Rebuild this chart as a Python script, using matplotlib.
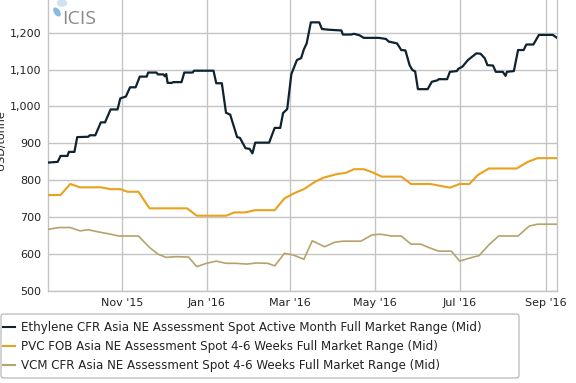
import matplotlib
matplotlib.use("Agg")
import matplotlib.pyplot as plt
import matplotlib.dates as mdates
from matplotlib.patches import FancyBboxPatch, Ellipse
import pandas as pd

plt.rcParams['font.family'] = ['DejaVu Sans']

eth_dates = ["2015-09-09", "2015-09-16", "2015-09-18", "2015-09-23", "2015-09-24", "2015-09-28",
             "2015-09-30", "2015-10-08", "2015-10-09", "2015-10-13", "2015-10-17", "2015-10-20",
             "2015-10-24", "2015-10-29", "2015-10-31", "2015-11-04", "2015-11-07", "2015-11-11",
             "2015-11-14", "2015-11-19", "2015-11-20", "2015-11-26", "2015-11-27", "2015-12-01",
             "2015-12-02", "2015-12-03", "2015-12-04", "2015-12-07", "2015-12-08", "2015-12-14",
             "2015-12-16", "2015-12-22", "2015-12-23", "2016-01-06", "2016-01-08", "2016-01-12",
             "2016-01-15", "2016-01-18", "2016-01-23", "2016-01-25", "2016-01-29", "2016-02-01",
             "2016-02-03", "2016-02-05", "2016-02-15", "2016-02-19", "2016-02-23", "2016-02-25",
             "2016-02-28", "2016-03-02", "2016-03-06", "2016-03-09", "2016-03-11", "2016-03-13",
             "2016-03-16", "2016-03-22", "2016-03-24", "2016-03-29", "2016-04-07", "2016-04-08",
             "2016-04-14", "2016-04-16", "2016-04-20", "2016-04-23", "2016-05-04", "2016-05-09",
             "2016-05-11", "2016-05-17", "2016-05-20", "2016-05-23", "2016-05-26", "2016-05-28",
             "2016-05-30", "2016-06-01", "2016-06-08", "2016-06-11", "2016-06-15", "2016-06-16",
             "2016-06-22", "2016-06-24", "2016-06-29", "2016-06-30", "2016-07-03", "2016-07-07",
             "2016-07-10", "2016-07-13", "2016-07-16", "2016-07-19", "2016-07-21", "2016-07-25",
             "2016-07-27", "2016-08-01", "2016-08-03", "2016-08-04", "2016-08-09", "2016-08-12",
             "2016-08-16", "2016-08-18", "2016-08-23", "2016-08-27", "2016-09-06", "2016-09-09"]
eth_values = [848, 850, 866, 866, 877, 877,
              917, 918, 922, 922, 957, 957,
              992, 992, 1022, 1027, 1052, 1052,
              1081, 1081, 1092, 1092, 1087, 1087,
              1082, 1088, 1064, 1064, 1066, 1066,
              1092, 1092, 1097, 1097, 1063, 1063,
              983, 978, 917, 915, 887, 885,
              873, 902, 902, 942, 942, 982,
              993, 1088, 1126, 1131, 1155, 1171,
              1228, 1228, 1210, 1208, 1206, 1195,
              1195, 1197, 1193, 1186, 1186, 1183,
              1176, 1171, 1153, 1152, 1112, 1099,
              1095, 1047, 1047, 1067, 1071, 1074,
              1074, 1094, 1096, 1102, 1108, 1126,
              1135, 1144, 1143, 1131, 1112, 1111,
              1094, 1094, 1083, 1094, 1096, 1153,
              1153, 1168, 1168, 1194, 1194, 1186]

pvc_dates = ["2015-09-09", "2015-09-18", "2015-09-25", "2015-10-02", "2015-10-17", "2015-10-24",
             "2015-10-31", "2015-11-05", "2015-11-13", "2015-11-21", "2015-12-18", "2015-12-25",
             "2016-01-15", "2016-01-21", "2016-01-29", "2016-02-05", "2016-02-19", "2016-02-26",
             "2016-03-04", "2016-03-11", "2016-03-19", "2016-03-25", "2016-04-04", "2016-04-10",
             "2016-04-16", "2016-04-23", "2016-04-29", "2016-05-06", "2016-05-20", "2016-05-27",
             "2016-06-10", "2016-06-24", "2016-07-01", "2016-07-08", "2016-07-14", "2016-07-22",
             "2016-08-11", "2016-08-19", "2016-08-26", "2016-09-09"]
pvc_values = [760, 760, 790, 781, 781, 776,
              776, 769, 769, 724, 724, 704,
              704, 713, 713, 719, 719, 751,
              765, 776, 796, 807, 817, 820,
              830, 830, 822, 810, 810, 790,
              790, 780, 790, 790, 814, 832,
              832, 850, 860, 860]

vcm_dates = ["2015-09-09", "2015-09-17", "2015-09-25", "2015-10-02", "2015-10-08", "2015-10-14",
             "2015-10-24", "2015-10-30", "2015-11-13", "2015-11-21", "2015-11-27", "2015-12-03",
             "2015-12-10", "2015-12-19", "2015-12-25", "2016-01-01", "2016-01-08", "2016-01-15",
             "2016-01-22", "2016-01-30", "2016-02-06", "2016-02-14", "2016-02-19", "2016-02-26",
             "2016-03-03", "2016-03-11", "2016-03-17", "2016-03-26", "2016-04-02", "2016-04-08",
             "2016-04-21", "2016-04-29", "2016-05-05", "2016-05-13", "2016-05-20", "2016-05-27",
             "2016-06-03", "2016-06-10", "2016-06-16", "2016-06-25", "2016-07-01", "2016-07-08",
             "2016-07-15", "2016-07-22", "2016-07-29", "2016-08-12", "2016-08-20", "2016-08-26",
             "2016-09-09"]
vcm_values = [667, 672, 672, 663, 666, 661,
              654, 649, 649, 618, 600, 591,
              593, 592, 566, 575, 581, 575,
              575, 573, 576, 575, 568, 602,
              598, 586, 636, 620, 632, 635,
              635, 652, 654, 649, 649, 627,
              627, 616, 608, 608, 581, 589,
              596, 625, 649, 649, 676, 681,
              681]

series_labels = ["Ethylene CFR Asia NE Assessment Spot Active Month Full Market Range (Mid)",
                 "PVC FOB Asia NE Assessment Spot 4-6 Weeks Full Market Range (Mid)",
                 "VCM CFR Asia NE Assessment Spot 4-6 Weeks Full Market Range (Mid)"]
y_ticks = [500, 600, 700, 800, 900, 1000, 1100, 1200]
y_label = "USD/tonne"

W, H = 576, 383
fig = plt.figure(figsize=(5.76, 3.83), dpi=100)
ax = fig.add_axes([48/W, 1 - 291/H, (557 - 48)/W, 291/H])

ax.plot(pd.to_datetime(eth_dates), eth_values, color="#0e2230", lw=1.6, label=series_labels[0], zorder=5)
ax.plot(pd.to_datetime(pvc_dates), pvc_values, color="#eaa11c", lw=1.5, label=series_labels[1], zorder=4)
ax.plot(pd.to_datetime(vcm_dates), vcm_values, color="#b5a26c", lw=1.2, label=series_labels[2], zorder=3)

ax.set_xlim(pd.Timestamp("2015-09-09"), pd.Timestamp("2016-09-09"))
ax.set_ylim(500, 1288.6)
ax.set_yticks(y_ticks)
ax.yaxis.set_major_formatter(matplotlib.ticker.FuncFormatter(lambda v, p: f"{int(v):,}"))
ax.xaxis.set_major_locator(mdates.MonthLocator(bymonth=[1, 3, 5, 7, 9, 11]))
ax.xaxis.set_major_formatter(mdates.DateFormatter("%b '%y"))
ax.grid(True, color="#c4c4c4", lw=1.0)
ax.set_axisbelow(True)
ax.tick_params(length=0, labelsize=8, colors="#222222", pad=5)
for s in ax.spines.values():
    s.set_color("#c4c4c4")
    s.set_linewidth(1.0)
ax.spines["top"].set_visible(False)

ax.text(-0.012, 1302, "1,300", transform=ax.get_yaxis_transform(), ha="right", va="center",
        fontsize=8, color="#222222", clip_on=False)
fig.text(1/W, 1 - 140/H, y_label, rotation=90, ha="center", va="center", fontsize=8, color="#222222")

# ICIS logo
fig.text(62/W, 1 - 19/H, "ICIS", fontsize=14, color="#8a8a8a", ha="left", va="center",
         family="Open Sans")
fig.patches.append(Ellipse((57/W, 1 - 12/H), 5/W, 8/H, angle=20, transform=fig.transFigure,
                           color="#7fb6dd", alpha=0.9))
fig.patches.append(Ellipse((62/W, 1 - 3/H), 9/W, 6/H, transform=fig.transFigure,
                           color="#c9dff0", alpha=0.9))

# legend frame
fig.patches.append(FancyBboxPatch((1/W, 1 - 378/H), (519 - 1)/W, (378 - 314)/H,
                                  boxstyle="round,pad=0,rounding_size=0.006", transform=fig.transFigure,
                                  facecolor="white", edgecolor="#b0b0b0", linewidth=0.8, zorder=0))

leg = fig.legend(loc="upper left", bbox_to_anchor=(3/W, 1 - 321/H), bbox_transform=fig.transFigure,
                 fontsize=8.6, frameon=False, handlelength=1.03,
                 handletextpad=0.48, borderpad=0, labelspacing=0.5, borderaxespad=0)
for line in leg.get_lines():
    line.set_linewidth(1.5)
for t in leg.get_texts():
    t.set_color("#222222")

fig.savefig("out.png", dpi=100)
